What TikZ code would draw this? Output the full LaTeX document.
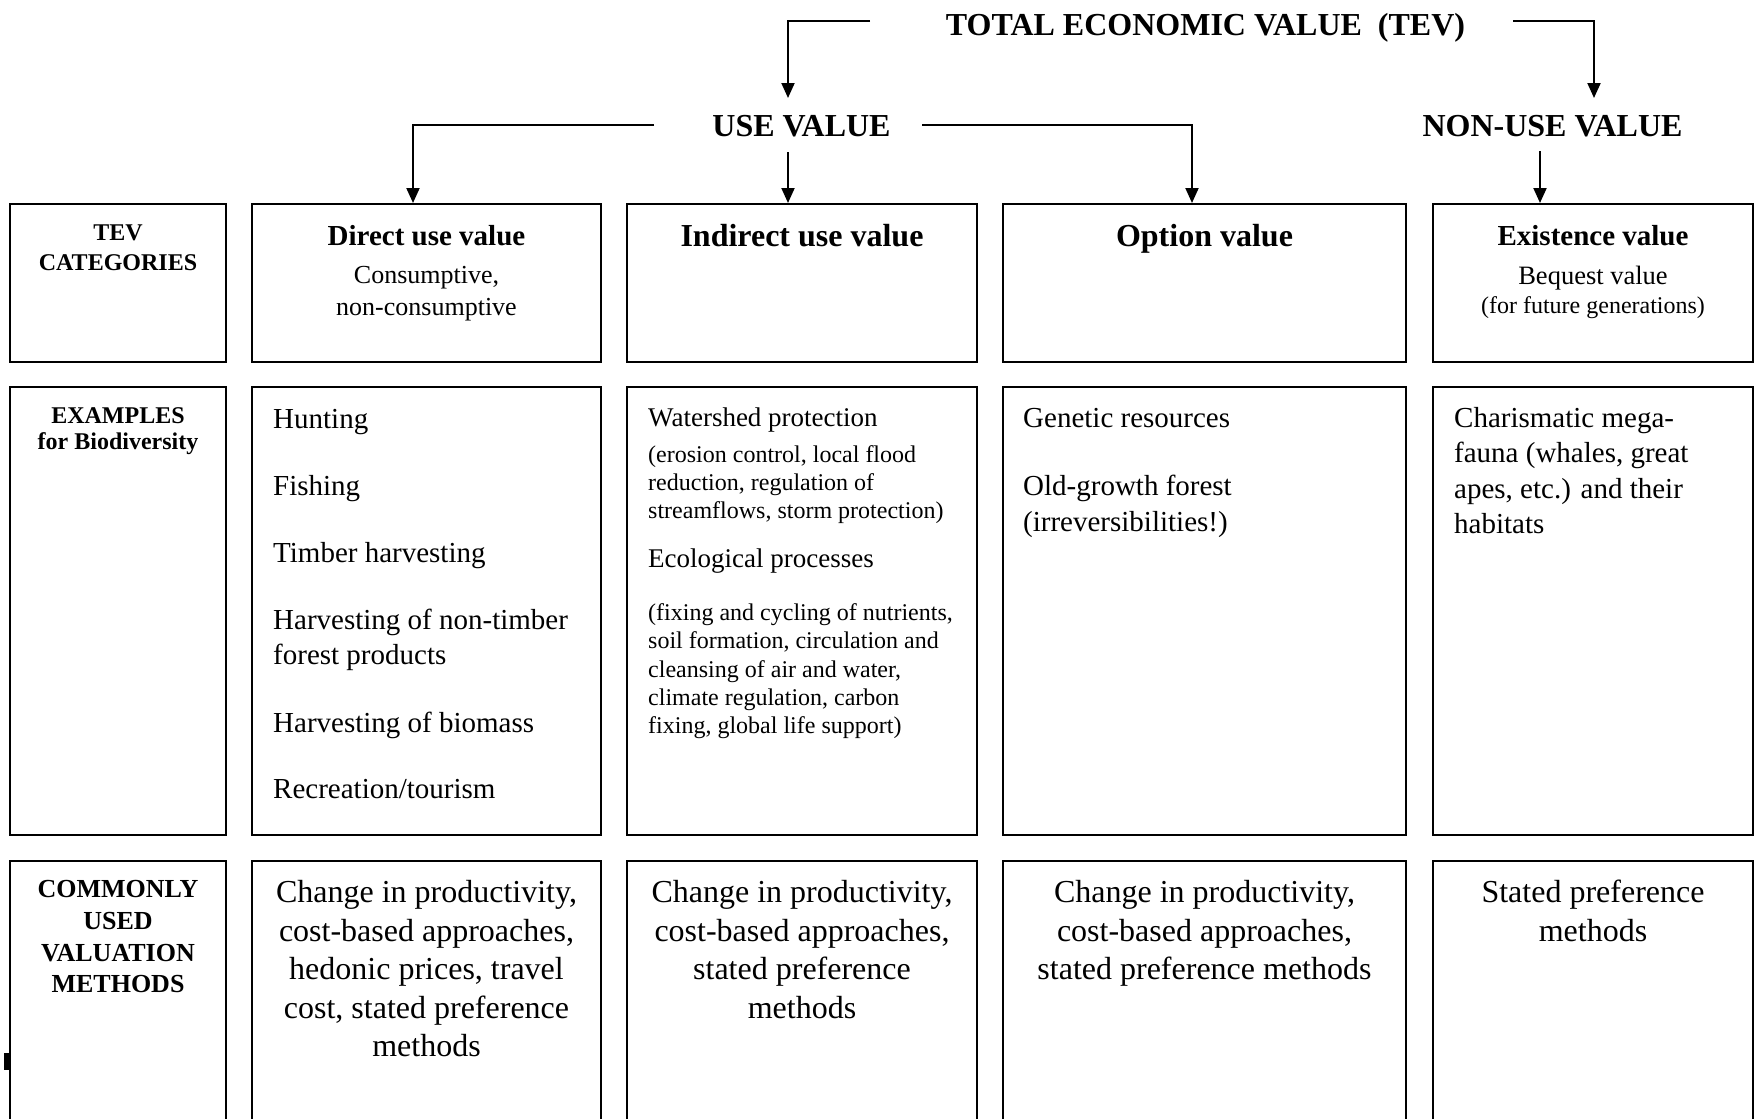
\documentclass[tikz,border=0pt]{standalone}
\usepackage{fontspec}
\setmainfont{Liberation Serif}
\usetikzlibrary{arrows.meta}
\newcommand{\fsz}[1]{\fontsize{#1}{#1}\selectfont}
\begin{document}
\begin{tikzpicture}[x=1pt,y=-1pt,
  box/.style={draw, line width=2pt, inner sep=0pt, minimum width=#1},
  t/.style={inner sep=0pt, anchor=base},
  tl/.style={inner sep=0pt, anchor=base west},
  hd/.style={t, font=\bfseries\fsz{32}},
  lab/.style={t, font=\bfseries\fsz{24}},
  lab3/.style={t, font=\bfseries\fsz{26}},
  item/.style={tl, font=\fsz{29}},
  sub/.style={tl, font=\fsz{24}},
  meth/.style={t, font=\fsz{32}},
  conn/.style={line width=2pt},
  arr/.style={line width=2pt, -{Triangle[width=13pt,length=15pt]}}
]
\useasboundingbox (0,0) rectangle (1754,1119);
\clip (0,0) rectangle (1754,1119);

% ---------- boxes ----------
% row 1
\node[box=216pt, minimum height=158pt] (b11) at (118,283) {};
\node[box=349pt, minimum height=158pt] (b12) at (426.5,283) {};
\node[box=350pt, minimum height=158pt] (b13) at (802,283) {};
\node[box=403pt, minimum height=158pt] (b14) at (1204.5,283) {};
\node[box=320pt, minimum height=158pt] (b15) at (1593,283) {};
% row 2
\node[box=216pt, minimum height=448pt] (b21) at (118,611) {};
\node[box=349pt, minimum height=448pt] (b22) at (426.5,611) {};
\node[box=350pt, minimum height=448pt] (b23) at (802,611) {};
\node[box=403pt, minimum height=448pt] (b24) at (1204.5,611) {};
\node[box=320pt, minimum height=448pt] (b25) at (1593,611) {};
% row 3 (runs past the lower edge)
\node[box=216pt, minimum height=300pt] (b31) at (118,1011) {};
\node[box=349pt, minimum height=300pt] (b32) at (426.5,1011) {};
\node[box=350pt, minimum height=300pt] (b33) at (802,1011) {};
\node[box=403pt, minimum height=300pt] (b34) at (1204.5,1011) {};
\node[box=320pt, minimum height=300pt] (b35) at (1593,1011) {};

% ---------- headings ----------
\node[hd] (tev) at (1205.5,35) {TOTAL ECONOMIC VALUE\ \ (TEV)};
\node[hd] (use) at (801.5,136) {USE VALUE};
\node[hd] (nonuse) at (1552.5,136) {NON-USE VALUE};

% ---------- connectors ----------
\coordinate (tevL) at (870,20.7);
\coordinate (tevR) at (1513,20.7);
\coordinate (useTip) at (788,98);
\coordinate (nonTip) at (1594,98);
\coordinate (useL) at (654,125.3);
\coordinate (useR) at (922,125.3);
\coordinate (useM) at (788,152);
\coordinate (nonM) at (1540,151);
\draw[arr] (tevL) -| (useTip);
\draw[arr] (tevR) -| (nonTip);
\draw[arr] (useL) -| ([xshift=-13.5pt]b12.north);
\draw[arr] (useM) -- ([xshift=-14pt]b13.north);
\draw[arr] (useR) -| ([xshift=-12.5pt]b14.north);
\draw[arr] (nonM) -- ([xshift=-53pt]b15.north);

% ---------- row 1 texts ----------
\node[lab] (c1a) at (118,240.5) {TEV};
\node[lab] (c1b) at (118,270) {CATEGORIES};
\node[t, font=\bfseries\fsz{29}] (d1) at (426.5,245) {Direct use value};
\node[t, font=\fsz{26}] (d2) at (426.5,283.5) {Consumptive,};
\node[t, font=\fsz{26}] (d3) at (426.5,315.5) {non-consumptive};
\node[t, font=\bfseries\fsz{32}] (i1) at (802,246) {Indirect use value};
\node[t, font=\bfseries\fsz{32}] (o1) at (1204.5,246) {Option value};
\node[t, font=\bfseries\fsz{29}] (e1) at (1593,245) {Existence value};
\node[t, font=\fsz{26.5}] (e2) at (1593,284) {Bequest value};
\node[t, font=\fsz{24}] (e3) at (1593,313) {(for future generations)};

% ---------- row 2 texts ----------
\node[lab] (c2a) at (118,423) {EXAMPLES};
\node[lab] (c2b) at (118,449) {for Biodiversity};

\node[item] (x1) at (273,428) {Hunting};
\node[item] (x2) at (273,495) {Fishing};
\node[item] (x3) at (273,562) {Timber harvesting};
\node[item] (x4) at (273,629) {Harvesting of non-timber};
\node[item] (x5) at (273,664) {forest products};
\node[item] (x6) at (273,732) {Harvesting of biomass};
\node[item] (x7) at (273,798) {Recreation/tourism};

\node[tl, font=\fsz{27}] (y1) at (648,426) {Watershed protection};
\node[sub] (y2) at (648,462) {(erosion control, local flood};
\node[sub] (y3) at (648,490) {reduction, regulation of};
\node[sub] (y4) at (648,518) {streamflows, storm protection)};
\node[tl, font=\fsz{27}] (y5) at (648,567) {Ecological processes};
\node[sub] (y6) at (648,620) {(fixing and cycling of nutrients,};
\node[sub] (y7) at (648,648) {soil formation, circulation and};
\node[sub] (y8) at (648,677) {cleansing of air and water,};
\node[sub] (y9) at (648,705) {climate regulation, carbon};
\node[sub] (y10) at (648,733) {fixing, global life support)};

\node[item] (z1) at (1023,427) {Genetic resources};
\node[item] (z2) at (1023,495) {Old-growth forest};
\node[item] (z3) at (1023,531) {(irreversibilities!)};

\node[item] (w1) at (1454,427) {Charismatic mega-};
\node[item] (w2) at (1454,462.5) {fauna (whales, great};
\node[item] (w3) at (1454,498) {apes, etc.) and their};
\node[item] (w4) at (1454,533.5) {habitats};

% ---------- row 3 texts ----------
\node[lab3] (c3a) at (118,897) {COMMONLY};
\node[lab3] (c3b) at (118,929) {USED};
\node[lab3] (c3c) at (118,961) {VALUATION};
\node[lab3] (c3d) at (118,992) {METHODS};

\node[meth] (m1) at (426.5,902.5) {Change in productivity,};
\node[meth] (m2) at (426.5,941) {cost-based approaches,};
\node[meth] (m3) at (426.5,979.5) {hedonic prices, travel};
\node[meth] (m4) at (426.5,1018) {cost, stated preference};
\node[meth] (m5) at (426.5,1056) {methods};

\node[meth] (n1) at (802,902.5) {Change in productivity,};
\node[meth] (n2) at (802,941) {cost-based approaches,};
\node[meth] (n3) at (802,979.5) {stated preference};
\node[meth] (n4) at (802,1018) {methods};

\node[meth] (p1) at (1204.5,902.5) {Change in productivity,};
\node[meth] (p2) at (1204.5,941) {cost-based approaches,};
\node[meth] (p3) at (1204.5,979.5) {stated preference methods};

\node[meth] (q1) at (1593,902.5) {Stated preference};
\node[meth] (q2) at (1593,941) {methods};

% small mark on the left edge
\coordinate (mk1) at (6,1053);
\coordinate (mk2) at (6,1070);
\draw[line width=5pt] (mk1) -- (mk2);
\end{tikzpicture}
\end{document}
